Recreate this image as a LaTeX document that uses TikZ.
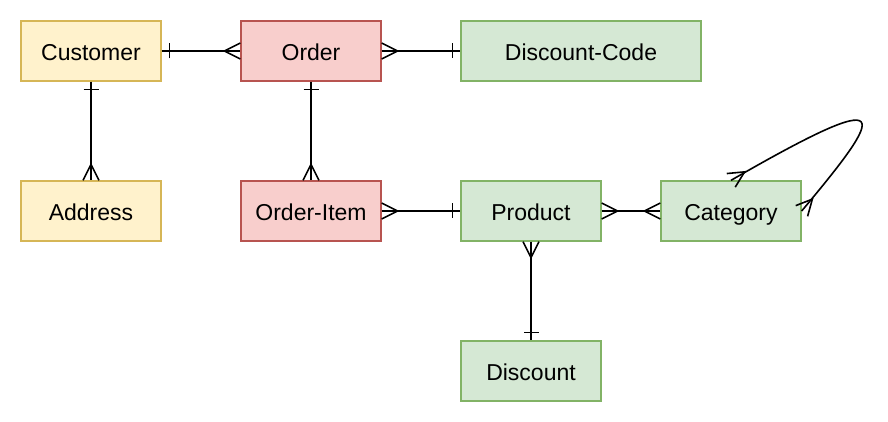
\documentclass[tikz,border=0pt]{standalone}
\usepackage{fontspec}
\setmainfont{Liberation Sans}
\definecolor{yfill}{HTML}{FFF2CC}\definecolor{ydraw}{HTML}{D6B656}
\definecolor{rfill}{HTML}{F8CECC}\definecolor{rdraw}{HTML}{B85450}
\definecolor{gfill}{HTML}{D5E8D4}\definecolor{gdraw}{HTML}{82B366}
\tikzset{
  ent/.style={draw, line width=1.3pt, minimum height=60pt, inner sep=0pt, text height=20pt, text depth=1.5pt, font=\fontsize{23}{27}\selectfont},
  yent/.style={ent, fill=yfill, draw=ydraw, minimum width=140pt},
  rent/.style={ent, fill=rfill, draw=rdraw, minimum width=140pt},
  gent/.style={ent, fill=gfill, draw=gdraw, minimum width=140pt},
  conn/.style={draw=black, line width=1.6pt},
  pics/erone/.style={code={\draw[conn] (8,-7.5) -- (8,7.5);}},
  pics/ermany/.style={code={\draw[conn] (0,-8) -- (16,0) -- (0,8);}},
}
\begin{document}
\begin{tikzpicture}[x=1pt,y=1pt]
\useasboundingbox (0,0) rectangle (888,422);
\node[yent] (cust) at (91,371) {Customer};
\node[rent] (ord) at (311,371) {Order};
\node[gent, minimum width=240pt] (dc) at (581,371) {Discount-Code};
\node[yent] (addr) at (91,211) {Address};
\node[rent] (oi) at (311,211) {Order-Item};
\node[gent] (prod) at (531,211) {Product};
\node[gent] (cat) at (731,211) {Category};
\node[gent] (disc) at (531,51) {Discount};

\draw[conn] (cust.east) -- (ord.west);
\pic at (cust.east) {erone};
\pic[rotate=180] at (ord.west) {ermany};

\draw[conn] (ord.east) -- (dc.west);
\pic at (ord.east) {ermany};
\pic[rotate=180] at (dc.west) {erone};

\draw[conn] (cust.south) -- (addr.north);
\pic[rotate=-90] at (cust.south) {erone};
\pic[rotate=90] at (addr.north) {ermany};

\draw[conn] (ord.south) -- (oi.north);
\pic[rotate=-90] at (ord.south) {erone};
\pic[rotate=90] at (oi.north) {ermany};

\draw[conn] (oi.east) -- (prod.west);
\pic at (oi.east) {ermany};
\pic[rotate=180] at (prod.west) {erone};

\draw[conn] (prod.east) -- (cat.west);
\pic at (prod.east) {ermany};
\pic[rotate=180] at (cat.west) {ermany};

\draw[conn] (prod.south) -- (disc.north);
\pic[rotate=-90] at (prod.south) {ermany};
\pic[rotate=90] at (disc.north) {erone};

\draw[conn] (cat.north) .. controls +(30:195) and +(50:130) .. (cat.east);
\pic[rotate=32] at (cat.north) {ermany};
\pic[rotate=48] at (cat.east) {ermany};
\end{tikzpicture}
\end{document}
